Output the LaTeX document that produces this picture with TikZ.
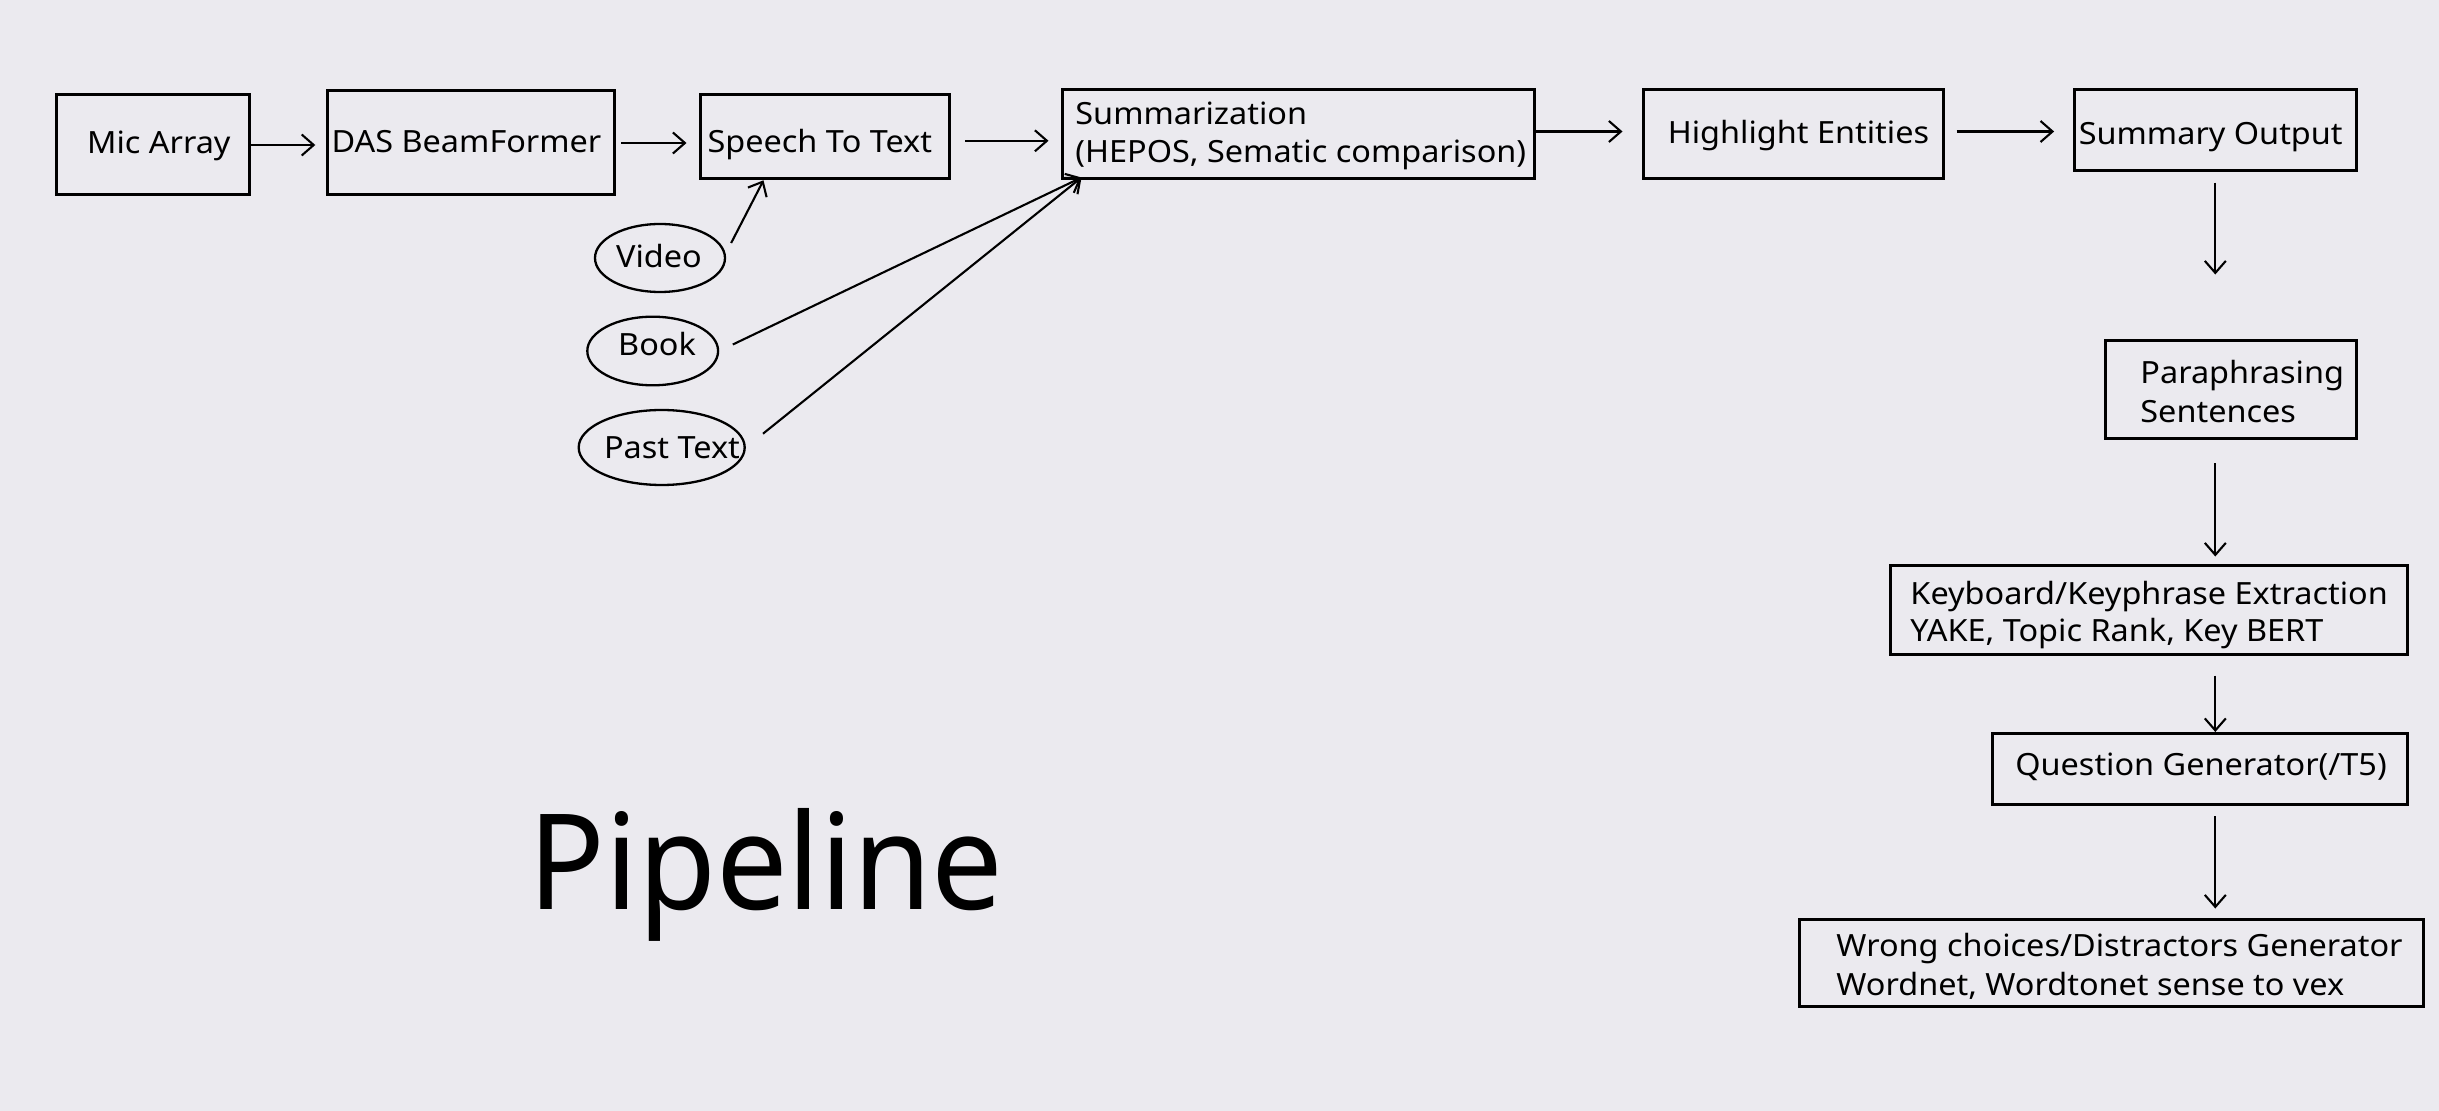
\documentclass[tikz,border=0pt]{standalone}
\usepackage{fontspec}
\setmainfont{Noto Sans}[FakeStretch=1.06]
\newfontfamily\titlefont{Noto Sans}[FakeStretch=0.955]
\usetikzlibrary{arrows.meta,shapes.geometric}
\definecolor{bg}{RGB}{235,234,239}
\newcommand\lblfont{\fontsize{15.3}{19.25}\selectfont}
\begin{document}
\begin{tikzpicture}[x=0.5pt,y=-0.5pt,
 box/.style={draw, line width=1.5pt, inner sep=0pt},
 oval/.style={draw, ellipse, line width=1.15pt, inner sep=0pt},
 txt/.style={font=\lblfont, inner sep=0pt, anchor=base},
 txtl/.style={font=\lblfont, inner sep=0pt, anchor=base west},
 arr/.style={line width=1.05pt, -{Straight Barb[length=6pt,width=10.5pt]}},
]
\fill[bg] (0,0) rectangle (2439,1111);
\useasboundingbox (0,0) rectangle (2439,1111);

% boxes
\node[box, minimum width=96.5pt, minimum height=50pt] (mic) at (152.5,145) {};
\node[box, minimum width=143.5pt, minimum height=52pt] (das) at (471.3,143) {};
\node[box, minimum width=124.8pt, minimum height=42pt] (stt) at (824.8,136.8) {};
\node[box, minimum width=236pt, minimum height=44.5pt] (sum) at (1298,134.5) {};
\node[box, minimum width=150pt, minimum height=44.5pt] (he) at (1793,134.5) {};
\node[box, minimum width=140.7pt, minimum height=40.3pt] (so) at (2215.3,130.3) {};
\node[box, minimum width=125.2pt, minimum height=49pt] (para) at (2230.8,390) {};
\node[box, minimum width=258.5pt, minimum height=44pt] (key) at (2149.3,610) {};
\node[box, minimum width=207.6pt, minimum height=35.5pt] (qg) at (2200.3,769) {};
\node[box, minimum width=312pt, minimum height=43.8pt] (wrong) at (2111.6,962.8) {};

% ovals
\node[oval, minimum width=65pt, minimum height=34pt] (video) at (660,258) {};
\node[oval, minimum width=65.4pt, minimum height=34.3pt] (book) at (652.7,351) {};
\node[oval, minimum width=83pt, minimum height=37.5pt] (past) at (661.7,447.5) {};

% labels
\node[txt] (micT) at (158.8,153.3) {Mic Array};
\node[txt] (dasT) at (466.5,152.7) {DAS BeamFormer};
\node[txt] (sttT) at (819.8,152.7) {Speech To Text};
\node[txtl] (sumT1) at (1075,124.3) {Summarization};
\node[txtl] (sumT2) at (1075,162.5) {(HEPOS, Sematic comparison)};
\node[txt] (heT) at (1798.4,144) {Highlight Entities};
\node[txt] (soT) at (2210.7,145) {Summary Output};
\node[txtl] (paraT1) at (2140,384) {Paraphrasing};
\node[txtl] (paraT2) at (2140,422.7) {Sentences};
\node[txtl] (keyT1) at (1910,604) {Keyboard/Keyphrase Extraction};
\node[txtl] (keyT2) at (1910,641.7) {YAKE, Topic Rank, Key BERT};
\node[txt] (qgT) at (2201,775.7) {Question Generator(/T5)};
\node[txtl] (wrongT1) at (1836,956.7) {Wrong choices/Distractors Generator};
\node[txtl] (wrongT2) at (1836,995) {Wordnet, Wordtonet sense to vex};
\node[txt] (videoT) at (659,268) {Video};
\node[txt] (bookT) at (657,356) {Book};
\node[txt] (pastT) at (672,458.3) {Past Text};

\node[font=\titlefont\fontsize{66.5}{70}\selectfont, anchor=base west, inner sep=0pt] (title) at (528,909) {Pipeline};

% connectors
\coordinate (sumIn) at ([xshift=10.5pt,yshift=1.5pt]sum.south west);
\coordinate (sttIn) at ([xshift=32.5pt]stt.south west);
\coordinate (videoOut) at ([shift={(2.5pt,7.5pt)}]video.east);
\draw[arr, shorten >=5.5pt] (mic.east) -- (mic.east -| das.west);
\draw[arr, shorten <=2.5pt, shorten >=6pt] (das.east) -- (das.east -| stt.west);
\draw[arr, shorten <=7pt, shorten >=6pt] ([yshift=-2pt]stt.east) -- ([yshift=-2pt]stt.east -| sum.west);
\draw[arr, shorten >=9.5pt] ([yshift=1.5pt]sum.east) -- ([yshift=1.5pt]sum.east -| he.west);
\draw[arr, shorten <=6pt, shorten >=9.5pt] ([yshift=1.5pt]he.east) -- ([yshift=1.5pt]he.east -| so.west);
\draw[arr, shorten <=5.3pt, shorten >=32.5pt] (so.south) -- (so.south |- para.north);
\draw[arr, shorten <=11.5pt, shorten >=4pt] (para.south -| so.south) -- (key.north -| so.south);
\draw[arr, shorten <=10pt] (key.south -| so.south) -- (qg.north -| so.south);
\draw[arr, shorten <=5pt, shorten >=4.5pt] (qg.south -| so.south) -- (wrong.north -| so.south);
\draw[arr] (videoOut) -- (sttIn);
\draw[arr, shorten <=7.5pt] (book.east) -- (sumIn);
\draw[arr, shorten <=11pt] (past.east) -- (sumIn);
\end{tikzpicture}
\end{document}
